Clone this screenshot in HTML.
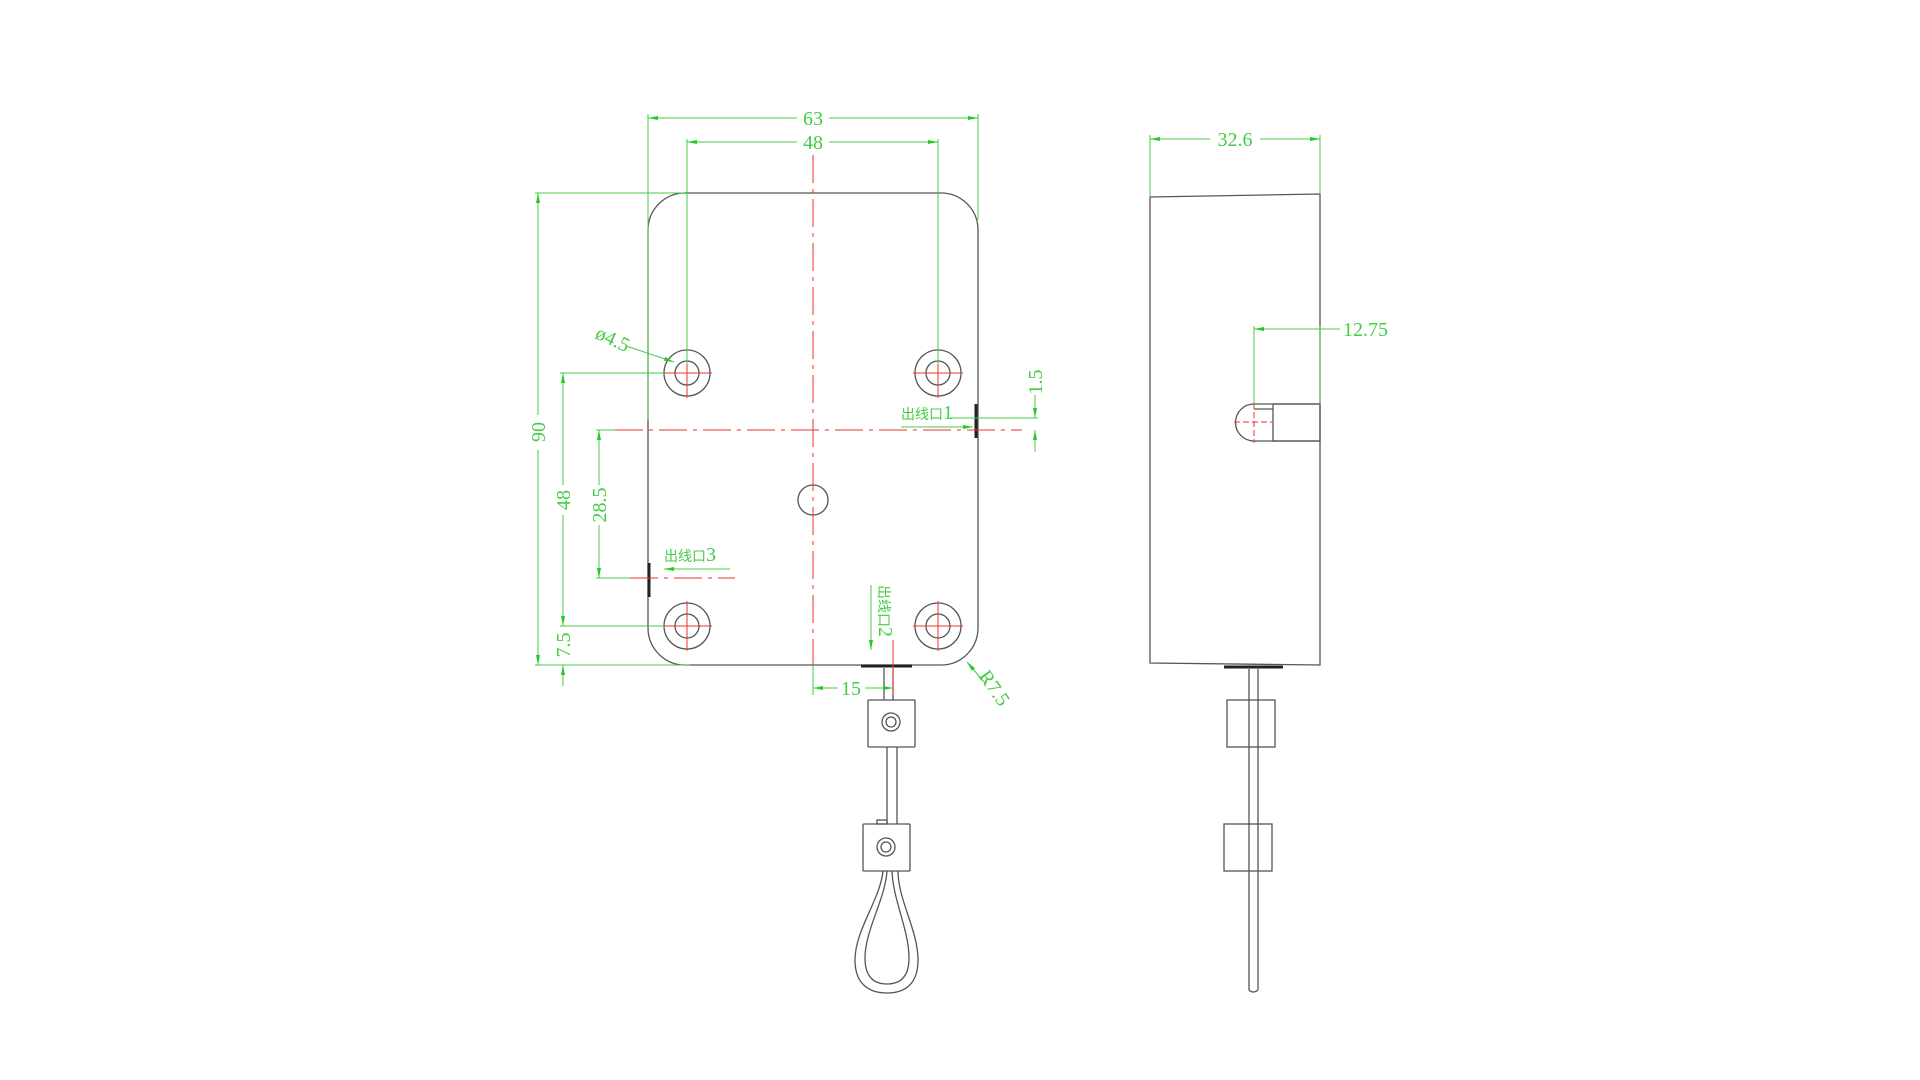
<!DOCTYPE html>
<html><head><meta charset="utf-8"><style>html,body{margin:0;padding:0;background:#fff}svg{display:block}</style></head>
<body>
<svg width="1920" height="1080" viewBox="0 0 1920 1080" xmlns="http://www.w3.org/2000/svg" font-family="Liberation Serif, 'Noto Serif CJK SC', serif">
<defs>
<marker id="a" viewBox="0 0 10 4" refX="10" refY="2" markerWidth="10" markerHeight="4" orient="auto-start-reverse" markerUnits="userSpaceOnUse"><path d="M0,0 L10,2 L0,4z" fill="#22cc22"/></marker>
</defs>
<g fill="none" stroke="#555" stroke-width="1.3">
<rect x="648" y="193" width="330" height="472" rx="37" ry="37"/>
<circle cx="687" cy="373" r="23"/><circle cx="687" cy="373" r="12"/>
<circle cx="938" cy="373" r="23"/><circle cx="938" cy="373" r="12"/>
<circle cx="687" cy="626" r="23"/><circle cx="687" cy="626" r="12"/>
<circle cx="938" cy="626" r="23"/><circle cx="938" cy="626" r="12"/>
<circle cx="813" cy="500" r="15"/>
<line x1="884" y1="668" x2="884" y2="700"/><line x1="893" y1="668" x2="893" y2="700"/>
<rect x="868" y="700" width="47" height="47" rx="1"/>
<circle cx="891" cy="722" r="9"/><circle cx="891" cy="722" r="5"/>
<line x1="887" y1="747" x2="887" y2="824"/><line x1="897" y1="747" x2="897" y2="824"/>
<rect x="877" y="820" width="10" height="4"/>
<rect x="863" y="824" width="47" height="47" rx="1"/>
<circle cx="886" cy="847" r="9"/><circle cx="886" cy="847" r="5"/>
<path d="M883,871 C880,900 855,930 855,960 C855,985 870,993 887,993 C904,993 918,985 918,960 C918,930 898,900 898,871"/>
<path d="M887,871 C885,900 865,930 865,958 C865,978 875,984 887,984 C899,984 909,978 909,958 C909,930 893,900 892,871"/>
<path d="M1150,197 L1320,194 L1320,665 L1150,663 Z"/>
<path d="M1320,404 L1254,404 A18.5,18.5 0 0 0 1254,441 L1320,441"/>
<line x1="1254" y1="409" x2="1273" y2="409"/>
<rect x="1273" y="404" width="47" height="37"/>
<line x1="1249" y1="669" x2="1249" y2="990"/><line x1="1258" y1="669" x2="1258" y2="990"/>
<path d="M1249,990 Q1253,994 1258,990"/>
<rect x="1227" y="700" width="48" height="47"/>
<rect x="1224" y="824" width="48" height="47"/>
</g>
<g stroke="#222" stroke-width="3">
<line x1="861" y1="666" x2="912" y2="666"/>
<line x1="1224" y1="667" x2="1283" y2="667"/>
<line x1="976" y1="404" x2="976" y2="438"/>
<line x1="649" y1="563" x2="649" y2="597"/>
</g>
<g stroke="#ee3333" stroke-width="1" fill="none" stroke-dasharray="28,6,4,6">
<line x1="813" y1="155" x2="813" y2="690"/>
<line x1="615" y1="430" x2="1022" y2="430"/>
<line x1="630" y1="578" x2="735" y2="578"/>
</g>
<g stroke="#ee3333" stroke-width="1">
<line x1="893" y1="640" x2="893" y2="695"/>
<line x1="662" y1="373" x2="712" y2="373"/><line x1="687" y1="348" x2="687" y2="398"/>
<line x1="913" y1="373" x2="963" y2="373"/><line x1="938" y1="348" x2="938" y2="398"/>
<line x1="662" y1="626" x2="712" y2="626"/><line x1="687" y1="601" x2="687" y2="651"/>
<line x1="913" y1="626" x2="963" y2="626"/><line x1="938" y1="601" x2="938" y2="651"/>
<line x1="1254" y1="403" x2="1254" y2="443" stroke-dasharray="6,3"/><line x1="1234" y1="422" x2="1273" y2="422" stroke-dasharray="6,3"/>
</g>
<g stroke="#44cc44" stroke-width="1" fill="none">
<line x1="648" y1="114" x2="648" y2="420"/><line x1="978" y1="114" x2="978" y2="220"/>
<line x1="648" y1="118" x2="797" y2="118" marker-start="url(#a)"/><line x1="829" y1="118" x2="978" y2="118" marker-end="url(#a)"/>
<line x1="687" y1="139" x2="687" y2="364"/><line x1="938" y1="139" x2="938" y2="364"/>
<line x1="687" y1="142" x2="797" y2="142" marker-start="url(#a)"/><line x1="829" y1="142" x2="938" y2="142" marker-end="url(#a)"/>
<line x1="535" y1="193" x2="685" y2="193"/><line x1="535" y1="665" x2="690" y2="665"/>
<line x1="538" y1="193" x2="538" y2="415" marker-start="url(#a)"/><line x1="538" y1="450" x2="538" y2="665" marker-end="url(#a)"/>
<line x1="560" y1="373" x2="664" y2="373"/><line x1="560" y1="626" x2="664" y2="626"/>
<line x1="563" y1="373" x2="563" y2="485" marker-start="url(#a)"/><line x1="563" y1="515" x2="563" y2="626" marker-end="url(#a)"/>
<line x1="563" y1="665" x2="563" y2="686" marker-start="url(#a)"/>
<line x1="596" y1="430" x2="615" y2="430"/><line x1="596" y1="578" x2="630" y2="578"/>
<line x1="599" y1="430" x2="599" y2="485" marker-start="url(#a)"/><line x1="599" y1="525" x2="599" y2="578" marker-end="url(#a)"/>
<line x1="730" y1="569" x2="664" y2="569" marker-end="url(#a)"/>
<line x1="901" y1="427" x2="973" y2="427" marker-end="url(#a)"/>
<line x1="950" y1="418" x2="1038" y2="418"/><line x1="1035" y1="395" x2="1035" y2="418" marker-end="url(#a)"/>
<line x1="1035" y1="452" x2="1035" y2="430" marker-end="url(#a)"/>
<line x1="871" y1="585" x2="871" y2="650" marker-end="url(#a)"/>
<line x1="813" y1="666" x2="813" y2="695"/>
<line x1="813" y1="688" x2="838" y2="688" marker-start="url(#a)"/><line x1="865" y1="688" x2="893" y2="688" marker-end="url(#a)"/>
<line x1="985" y1="683" x2="967" y2="662" marker-end="url(#a)"/>
<line x1="626" y1="346" x2="674" y2="362" marker-end="url(#a)"/>
<line x1="1150" y1="135" x2="1150" y2="196"/><line x1="1320" y1="135" x2="1320" y2="194"/>
<line x1="1150" y1="139" x2="1210" y2="139" marker-start="url(#a)"/><line x1="1260" y1="139" x2="1320" y2="139" marker-end="url(#a)"/>
<line x1="1254" y1="326" x2="1254" y2="404"/><line x1="1320" y1="326" x2="1320" y2="404"/>
<line x1="1254" y1="329" x2="1320" y2="329" marker-start="url(#a)"/><line x1="1300" y1="329" x2="1340" y2="329"/>
</g>
<g fill="#44cc44" font-size="20">
<text x="813" y="125" text-anchor="middle">63</text>
<text x="813" y="149" text-anchor="middle">48</text>
<text x="1235" y="146" text-anchor="middle">32.6</text>
<text x="1343" y="336">12.75</text>
<text transform="translate(545,432) rotate(-90)" text-anchor="middle">90</text>
<text transform="translate(570,500) rotate(-90)" text-anchor="middle">48</text>
<text transform="translate(606,505) rotate(-90)" text-anchor="middle">28.5</text>
<text transform="translate(570,645) rotate(-90)" text-anchor="middle">7.5</text>
<text transform="translate(1042,382) rotate(-90)" text-anchor="middle">1.5</text>
<text x="851" y="695" text-anchor="middle">15</text>
<text transform="translate(978,676) rotate(55)">R7.5</text>
<text transform="translate(610,345) rotate(25)" text-anchor="middle">ø4.5</text>
<text x="664" y="561" font-family="'Noto Sans CJK SC', sans-serif"><tspan font-size="14">出线口</tspan><tspan font-size="20" font-family="Liberation Serif, serif">3</tspan></text>
<text x="901" y="419" font-family="'Noto Sans CJK SC', sans-serif"><tspan font-size="14">出线口</tspan><tspan font-size="20" font-family="Liberation Serif, serif">1</tspan></text>
<text transform="translate(879,585) rotate(90)" font-family="'Noto Sans CJK SC', sans-serif"><tspan font-size="14">出线口</tspan><tspan font-size="20" font-family="Liberation Serif, serif">2</tspan></text>
</g>
</svg>
</body></html>
